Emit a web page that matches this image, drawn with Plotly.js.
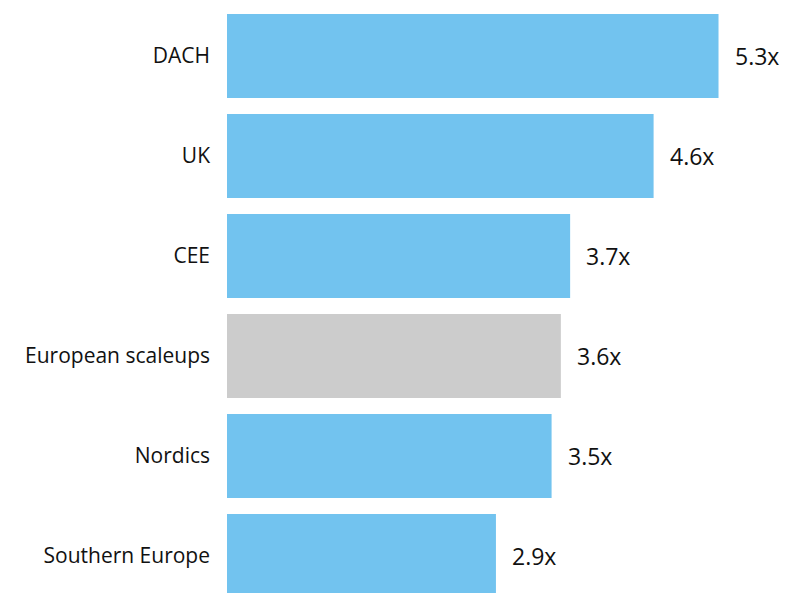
<!DOCTYPE html>
<html>
<head>
<meta charset="utf-8">
<script src="https://cdn.plot.ly/plotly-3.0.1.min.js"></script>
<style>html,body{margin:0;padding:0;background:#fff;}#chart{width:789px;height:593px;}</style>
</head>
<body>
<div id="chart"></div>
<script>
const categories = ["DACH", "UK", "CEE", "European scaleups", "Nordics", "Southern Europe"];
const values = [5.3, 4.6, 3.7, 3.6, 3.5, 2.9];
const labels = ["5.3x", "4.6x", "3.7x", "3.6x", "3.5x", "2.9x"];
const barColors = ["#72C3EF", "#72C3EF", "#72C3EF", "#CCCCCC", "#72C3EF", "#72C3EF"];

const fontFam = "'Open Sans', 'Noto Sans', sans-serif";

const trace = {
  type: "bar",
  orientation: "h",
  y: categories,
  x: values,
  marker: {color: barColors},
  hoverinfo: "none"
};

const annotations = categories.map((c, i) => ({
  x: values[i], y: c, xref: "x", yref: "y",
  text: labels[i], showarrow: false,
  xanchor: "left", xshift: 14,
  font: {family: fontFam, size: 23, color: "#111111"}
}));

const layout = {
  width: 789, height: 593,
  margin: {l: 227, r: 0, t: 6, b: 0, pad: 0},
  paper_bgcolor: "#ffffff", plot_bgcolor: "#ffffff",
  bargap: 0.16,
  showlegend: false,
  xaxis: {range: [0, 6.06], visible: false, fixedrange: true},
  yaxis: {
    type: "category",
    range: [5.37, -0.5],
    showgrid: false, zeroline: false, showline: false,
    ticks: "", ticklabelstandoff: 16,
    tickfont: {family: fontFam, size: 21, color: "#111111"}
  },
  annotations: annotations
};

Plotly.newPlot("chart", [trace], layout, {displayModeBar: false, staticPlot: true});
</script>
</body>
</html>
